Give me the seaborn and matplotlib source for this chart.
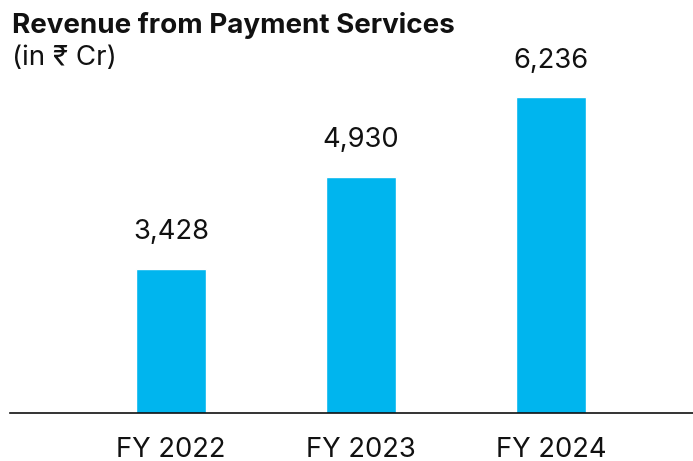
import matplotlib
matplotlib.use("Agg")
import matplotlib.pyplot as plt
import seaborn as sns
import pandas as pd

categories = ["FY 2022", "FY 2023", "FY 2024"]
revenue = [3428, 4930, 6236]
value_labels = ["3,428", "4,930", "6,236"]

sns.set_style("white")
plt.rcParams["font.family"] = ["Inter", "DejaVu Sans"]

df = pd.DataFrame({"year": categories, "revenue": revenue})

fig = plt.figure(figsize=(6.93, 4.61), dpi=100)
ax = fig.add_axes([10 / 693, 48 / 461, 683 / 693, 413 / 461])
sns.barplot(data=df, x="year", y="revenue", color="#00B5EE", saturation=1,
            width=0.365, ax=ax)

ax.set_ylim(1060, 1060 + 413 / 0.06097)
ax.set_xlim(-0.847, 2.747)
ax.bar_label(ax.containers[0], labels=value_labels, padding=17, fontsize=19.7,
             color="#111111")

for s in ["top", "right", "left"]:
    ax.spines[s].set_visible(False)
ax.spines["bottom"].set_color("#111111")
ax.spines["bottom"].set_linewidth(1.2)
ax.set_yticks([])
ax.set_xlabel("")
ax.set_ylabel("")
ax.tick_params(axis="x", length=0, pad=17.5, labelsize=19.7, labelcolor="#111111")

fig.text(12 / 693, 1 - 33 / 461, "Revenue from Payment Services", fontsize=20,
         fontweight="bold", color="#111111", va="baseline", ha="left")
fig.text(12 / 693, 1 - 65 / 461, "(in \u20b9 Cr)", fontsize=20,
         color="#111111", va="baseline", ha="left")

fig.savefig("out.png", dpi=100, facecolor="white")
